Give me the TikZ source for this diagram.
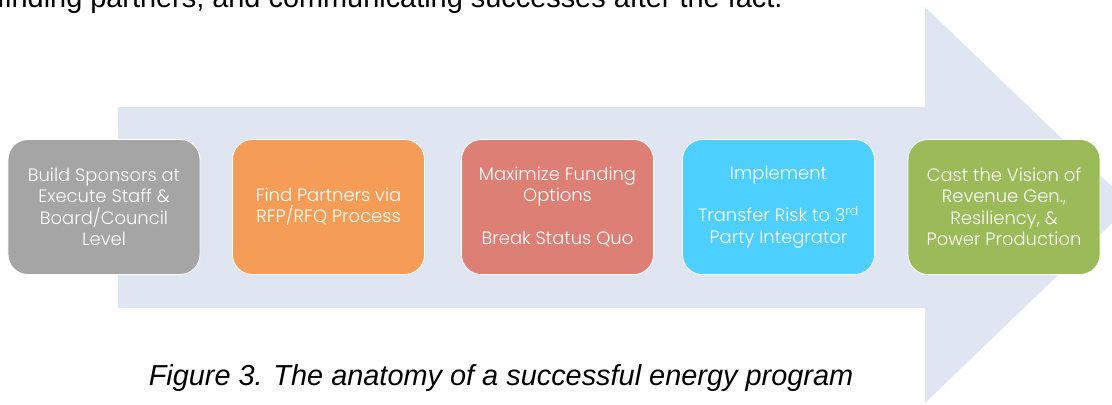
\documentclass[tikz,border=0pt]{standalone}
\usepackage{fontspec}
\setmainfont{Liberation Sans}
\newfontfamily\gothicfont{Poppins}[UprightFont=* Light]
\definecolor{arrowblue}{HTML}{DFE6F1}
\definecolor{stagegray}{HTML}{A5A5A5}
\definecolor{stageorange}{HTML}{F59D56}
\definecolor{stagered}{HTML}{DE7F75}
\definecolor{stagecyan}{HTML}{4DCFFF}
\definecolor{stagegreen}{HTML}{9BBB59}
\begin{document}
\begin{tikzpicture}[x=1bp,y=1bp]
  \tikzstyle{every node}+=[inner sep=0pt]
  \tikzstyle{stage}=[rounded corners=20bp, draw=white, line width=0.8bp, minimum width=192bp, minimum height=135bp, align=center, text=white, font=\gothicfont\fontsize{18}{21.5}\selectfont]
  \useasboundingbox (0,0) rectangle (1112,404);
  \clip (0,0) rectangle (1112,404);
  % big arrow behind the stages
  \fill [arrowblue] (118,297) -- (925,297) -- (925,397) -- (1131,199) -- (925,1) -- (925,96) -- (118,96) -- cycle;
  \node [stage, fill=stagegray] (sponsors) at (104,197) {Build Sponsors at\\Execute Staff \&\\Board/Council\\Level};
  \node [stage, fill=stageorange] (partners) at (328.5,197) {Find Partners via\\RFP/RFQ Process};
  \node [stage, fill=stagered] (funding) at (557.5,197) {Maximize Funding\\Options\\[21.5bp]Break Status Quo};
  \node [stage, fill=stagecyan] (implement) at (778.5,197) {Implement\\[21.5bp]Transfer Risk to 3\textsuperscript{rd}\\Party Integrator};
  \node [stage, fill=stagegreen] (vision) at (1004,197) {Cast the Vision of\\Revenue Gen.,\\Resiliency, \&\\Power Production};
  % text of the page
  \node [anchor=base west, font=\fontsize{29}{33}\selectfont] (bodytext) at (-3,396) {finding partners, and communicating successes after the fact.};
  \node [font=\itshape\fontsize{29}{33}\selectfont] (caption) at (501,26) {Figure 3. The anatomy of a successful energy program};
\end{tikzpicture}
\end{document}
